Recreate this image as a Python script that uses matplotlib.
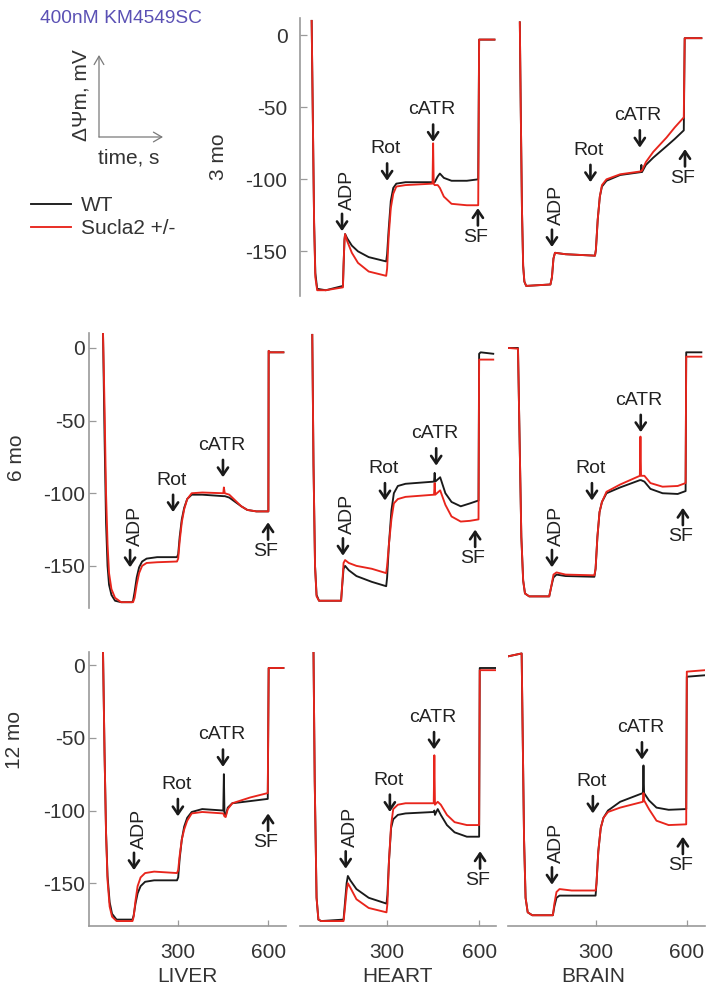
import matplotlib
matplotlib.use("Agg")
import matplotlib.pyplot as plt

plt.rcParams['font.family'] = ['Liberation Sans', 'DejaVu Sans']

W, H = 706, 996
TEXT = '#333333'
SPINE = '#9a9a9a'
WT_COLOR = '#1a1a1a'
KO_COLOR = '#e8251c'

# ---------------- membrane potential traces (time s, dPsi mV) ----------------
HEART_3MO_T = [54, 58, 62, 66, 72, 100, 156, 158, 161, 163, 170, 185, 205, 240, 297, 300, 305, 312, 320, 330,
               360, 448, 450, 452, 455, 465, 472, 485, 510, 560, 597, 600, 650]
HEART_3MO_WT = [10, -60, -130, -165, -176, -177, -174, -160, -142, -138, -141, -146, -150, -154, -157, -152, -135, -115, -106, -103,
                -102, -102, -102, -102, -102, -98, -96, -99, -101, -101, -100, -3, -3]
HEART_3MO_KO = [10, -60, -130, -168, -177, -177, -175, -160, -142, -138, -143, -151, -158, -164, -167, -162, -140, -120, -110, -105,
                -104, -103, -75, -103, -104, -104, -106, -112, -117, -118, -118, -3, -3]

BRAIN_3MO_T = [49, 52, 56, 60, 64, 70, 150, 155, 160, 165, 200, 297, 300, 306, 313, 320, 335, 380, 448, 450,
               452, 465, 489, 533, 560, 590, 593, 648]
BRAIN_3MO_WT = [9, -50, -120, -160, -171, -174, -173, -168, -155, -151, -152, -153, -149, -128, -112, -105, -101, -97, -95, -90,
                -95, -90, -85, -77, -72, -66, -2, -2]
BRAIN_3MO_KO = [9, -50, -120, -160, -171, -174, -173, -168, -155, -151, -152, -153, -149, -128, -112, -104, -100, -96.5, -94.5, -94,
                -94, -88, -81, -71, -64, -57, -2, -2]

LIVER_6MO_T = [50, 55, 60, 65, 70, 78, 90, 110, 146, 150, 155, 162, 170, 180, 195, 230, 296, 300, 305, 312,
               320, 330, 345, 380, 450, 452, 455, 470, 490, 510, 530, 560, 600, 601, 605, 650]
LIVER_6MO_WT = [10, -60, -120, -150, -163, -170, -174, -175, -175, -174, -168, -158, -151, -147, -145, -144, -144, -142, -130, -118,
                -110, -104, -101, -101, -102, -102, -102, -103, -106, -109, -111.5, -112.5, -112.5, -2, -3, -3]
LIVER_6MO_KO = [10, -40, -100, -135, -155, -166, -172, -175, -175, -175, -172, -163, -155, -150, -148, -147.5, -147, -145, -133, -120,
                -111, -104, -100, -99.5, -100, -96, -100, -101, -105, -109, -111.5, -112.5, -112.5, -2, -3, -3]

HEART_6MO_T = [56, 60, 65, 70, 78, 150, 153, 158, 163, 175, 200, 250, 297, 300, 306, 314, 322, 335, 360, 453,
               455, 457, 473, 490, 510, 540, 570, 598, 600, 605, 646]
HEART_6MO_WT = [9, -80, -150, -170, -174, -174, -165, -152, -150, -153, -157, -161, -164, -158, -135, -112, -100, -95, -93.5, -92,
                -86, -92, -89, -100, -106, -109, -107, -105, -4, -3, -4]
HEART_6MO_KO = [9, -80, -150, -171, -174, -174, -165, -148, -146, -148, -150, -152, -155, -150, -135, -118, -107, -104, -102.5, -101,
                -93, -101, -98, -108, -116, -119.5, -119, -118, -8, -8, -8]

BRAIN_6MO_T = [10, 43, 48, 54, 60, 66, 80, 146, 152, 160, 170, 200, 295, 299, 305, 312, 320, 335, 380, 445,
               447, 449, 460, 480, 520, 570, 596, 598, 648]
BRAIN_6MO_WT = [0, 0, -60, -130, -160, -169, -171, -171, -165, -158, -156, -157, -157.5, -152, -130, -113, -106, -100, -96, -91,
                -91, -91, -92, -97, -100, -100.5, -98.5, -3, -3]
BRAIN_6MO_KO = [0, -0.5, -60, -130, -160, -169, -171, -171, -165, -156, -154.5, -156, -156.5, -152, -130, -113, -106, -99, -94, -88,
                -61, -88, -88, -93, -95.5, -95, -93, -6, -6]

LIVER_12MO_T = [50, 55, 60, 65, 72, 80, 95, 148, 152, 158, 165, 175, 190, 220, 296, 300, 305, 312, 320, 330,
                345, 380, 450, 452, 454, 458, 465, 480, 540, 598, 601, 650]
LIVER_12MO_WT = [9, -60, -115, -145, -163, -171, -175, -175, -172, -164, -157, -152, -149, -148, -148, -146, -133, -120, -111, -105,
                 -101, -99, -100, -75, -102, -103.5, -98, -95, -93.5, -92, -2, -2]
LIVER_12MO_KO = [9, -60, -115, -148, -166, -173, -176, -176, -173, -162, -152, -146, -143, -142, -143, -141, -131, -120, -113, -107,
                 -102, -101, -102, -103, -104, -104.5, -99, -95, -91, -88, -2, -2]

HEART_12MO_T = [60, 64, 70, 76, 85, 158, 162, 168, 172, 180, 200, 240, 298, 301, 306, 313, 320, 335, 360, 452,
                454, 456, 465, 475, 495, 520, 560, 600, 602, 652]
HEART_12MO_WT = [9, -80, -160, -175, -176, -175, -165, -150, -145, -148, -154, -160, -164, -158, -135, -112, -106, -103, -102, -101,
                 -100, -103, -99, -103, -110, -115, -118, -118, -2, -2]
HEART_12MO_KO = [9, -80, -160, -175, -176, -176, -168, -155, -150, -153, -161, -167, -170, -164, -135, -110, -99, -96, -95, -95,
                 -62, -96, -94, -96, -103, -108, -110, -110, -3.5, -3.5]

BRAIN_12MO_T = [10, 55, 58, 63, 68, 75, 90, 158, 163, 170, 180, 220, 299, 302, 308, 316, 325, 340, 380, 455,
                457, 459, 475, 500, 540, 598, 600, 660]
BRAIN_12MO_WT = [6, 8, -40, -120, -160, -170, -172, -172, -166, -160, -158.5, -158.5, -158.5, -150, -128, -112, -105, -100, -94, -88,
                 -69, -88, -93, -98, -99.5, -99, -8, -7]
BRAIN_12MO_KO = [6, 8, -40, -120, -160, -170, -172, -172, -164, -156, -154, -155, -155, -150, -128, -112, -105, -101, -98, -94,
                 -88, -93, -99, -107, -110, -109.5, -4.5, -3.5]

# additions: (label, time of arrow, potential at arrow tip)
ADD_HEART_3MO = [('ADP', 153, -136), ('Rot', 300, -101), ('cATR', 450, -74), ('SF', 596, -120)]
ADD_BRAIN_3MO = [('ADP', 155, -147), ('Rot', 282, -102), ('cATR', 445, -78), ('SF', 594, -79)]
ADD_LIVER_6MO = [('ADP', 140, -151), ('Rot', 283, -113), ('cATR', 449, -89), ('SF', 599, -120)]
ADD_HEART_6MO = [('ADP', 156, -143), ('Rot', 293, -105), ('cATR', 460, -81), ('SF', 587, -125)]
ADD_BRAIN_6MO = [('ADP', 155, -151), ('Rot', 287, -105), ('cATR', 448, -58), ('SF', 587, -110)]
ADD_LIVER_12MO = [('ADP', 153, -141), ('Rot', 299, -104), ('cATR', 449, -70), ('SF', 599, -102)]
ADD_HEART_12MO = [('ADP', 165, -140), ('Rot', 309, -101), ('cATR', 453, -58), ('SF', 603, -128)]
ADD_BRAIN_12MO = [('ADP', 155, -151), ('Rot', 290, -102), ('cATR', 452, -65), ('SF', 587, -118)]

TISSUES = ['LIVER', 'HEART', 'BRAIN']
AGES = ['3 mo', '6 mo', '12 mo']
Y_TICKS = [0, -50, -100, -150]
X_TICKS = [300, 600]

PANELS = {
    (0, 1): (HEART_3MO_T, HEART_3MO_WT, HEART_3MO_KO, ADD_HEART_3MO),
    (0, 2): (BRAIN_3MO_T, BRAIN_3MO_WT, BRAIN_3MO_KO, ADD_BRAIN_3MO),
    (1, 0): (LIVER_6MO_T, LIVER_6MO_WT, LIVER_6MO_KO, ADD_LIVER_6MO),
    (1, 1): (HEART_6MO_T, HEART_6MO_WT, HEART_6MO_KO, ADD_HEART_6MO),
    (1, 2): (BRAIN_6MO_T, BRAIN_6MO_WT, BRAIN_6MO_KO, ADD_BRAIN_6MO),
    (2, 0): (LIVER_12MO_T, LIVER_12MO_WT, LIVER_12MO_KO, ADD_LIVER_12MO),
    (2, 1): (HEART_12MO_T, HEART_12MO_WT, HEART_12MO_KO, ADD_HEART_12MO),
    (2, 2): (BRAIN_12MO_T, BRAIN_12MO_WT, BRAIN_12MO_KO, ADD_BRAIN_12MO),
}

# ---------------- layout (pixels) ----------------
COL_GEOM = [(89.5, 196, (5, 657)), (300, 196, (16, 655)), (508, 197, (10, 660))]
ROW_GEOM = [(18, 296, (-181, 12)), (333, 608, (-179, 10.3)), (652, 926, (-179.4, 9))]

fig = plt.figure(figsize=(W / 100, H / 100), dpi=100)

# overlay in pixel coordinates for figure-level labels
ov = fig.add_axes([0, 0, 1, 1])
ov.set_xlim(0, W)
ov.set_ylim(H, 0)
ov.axis('off')


def make_axes(r, c):
    left, width, xlim = COL_GEOM[c]
    top, bottom, ylim = ROW_GEOM[r]
    ax = fig.add_axes([left / W, 1 - bottom / H, width / W, (bottom - top) / H])
    ax.set_xlim(*xlim)
    ax.set_ylim(*ylim)
    ax.patch.set_alpha(0)
    for s in ax.spines.values():
        s.set_visible(False)
        s.set_color(SPINE)
        s.set_linewidth(1.2)
    ax.set_xticks([])
    ax.set_yticks([])
    ax.tick_params(direction='in', colors=SPINE, labelcolor=TEXT, labelsize=15, width=0.9)
    return ax


def mark(ax, label, t, v):
    arrow_len = 12.5
    aprops = dict(arrowstyle='->,head_length=0.38,head_width=0.26', lw=1.9, color='#1a1a1a',
                  shrinkA=0, shrinkB=0, mutation_scale=14)
    if label == 'SF':
        ax.annotate('', xy=(t, v), xytext=(0, -arrow_len), textcoords='offset points', arrowprops=aprops)
        ax.annotate(label, xy=(t, v), xytext=(-1.5, -21), textcoords='offset points',
                    ha='center', va='center', fontsize=14, color='#222222')
    else:
        ax.annotate('', xy=(t, v), xytext=(0, arrow_len), textcoords='offset points', arrowprops=aprops)
        if label == 'ADP':
            ax.annotate(label, xy=(t, v), xytext=(3.6, 30), textcoords='offset points',
                        ha='center', va='center', rotation=90, fontsize=14, color='#222222')
        else:
            ax.annotate(label, xy=(t, v), xytext=(-1.2, 23), textcoords='offset points',
                        ha='center', va='center', fontsize=14, color='#222222')


wt_handle = ko_handle = None
for (r, c), (t, wt, ko, adds) in PANELS.items():
    ax = make_axes(r, c)
    lw, = ax.plot(t, wt, color=WT_COLOR, lw=1.35, solid_joinstyle='round')
    lk, = ax.plot(t, ko, color=KO_COLOR, lw=1.35, solid_joinstyle='round')
    wt_handle, ko_handle = lw, lk
    for label, tt, vv in adds:
        mark(ax, label, tt, vv)
    if c == 0 or (r == 0 and c == 1):
        ax.spines['left'].set_visible(True)
        ax.set_yticks(Y_TICKS)
        ax.set_yticklabels([str(v) for v in Y_TICKS])
        ax.tick_params(axis='y', length=5, pad=9 if r == 0 else 3)
    if r == 2:
        ax.spines['bottom'].set_visible(True)
        ax.set_xticks(X_TICKS)
        ax.set_xticklabels([str(v) for v in X_TICKS])
        ax.tick_params(axis='x', length=4, pad=12)

# row and column titles
ov.text(218, 157, AGES[0], rotation=90, ha='center', va='center', fontsize=15, color=TEXT)
ov.text(17, 458, AGES[1], rotation=90, ha='center', va='center', fontsize=15, color=TEXT)
ov.text(15, 740, AGES[2], rotation=90, ha='center', va='center', fontsize=15, color=TEXT)
for x, name in zip([187, 398, 593], TISSUES):
    ov.text(x, 976, name, ha='center', va='center', fontsize=15, color=TEXT)

# compound label and scale axes
ov.text(121, 18, '400nM KM4549SC', ha='center', va='center', fontsize=13.8, color='#5a50b4')
sprops = dict(arrowstyle='->,head_length=0.6,head_width=0.35', lw=0.9, color='#7a7a7a',
              shrinkA=0, shrinkB=0, mutation_scale=10)
ov.annotate('', xy=(99, 55), xytext=(99, 137), arrowprops=sprops)
ov.annotate('', xy=(163, 137), xytext=(99, 137), arrowprops=sprops)
ov.text(81, 95, '\u0394\u03a8m, mV', rotation=90, ha='center', va='center', fontsize=15, color=TEXT)
ov.text(129, 158, 'time, s', ha='center', va='center', fontsize=15, color=TEXT)

fig.legend([wt_handle, ko_handle], ['WT', 'Sucla2 +/-'], loc='upper left',
           bbox_to_anchor=(31 / W, 1 - 196 / H), frameon=False, fontsize=15,
           handlelength=1.9, handletextpad=0.5, labelspacing=0.2, borderaxespad=0, borderpad=0,
           labelcolor=TEXT)

fig.savefig('out.png', dpi=100)
